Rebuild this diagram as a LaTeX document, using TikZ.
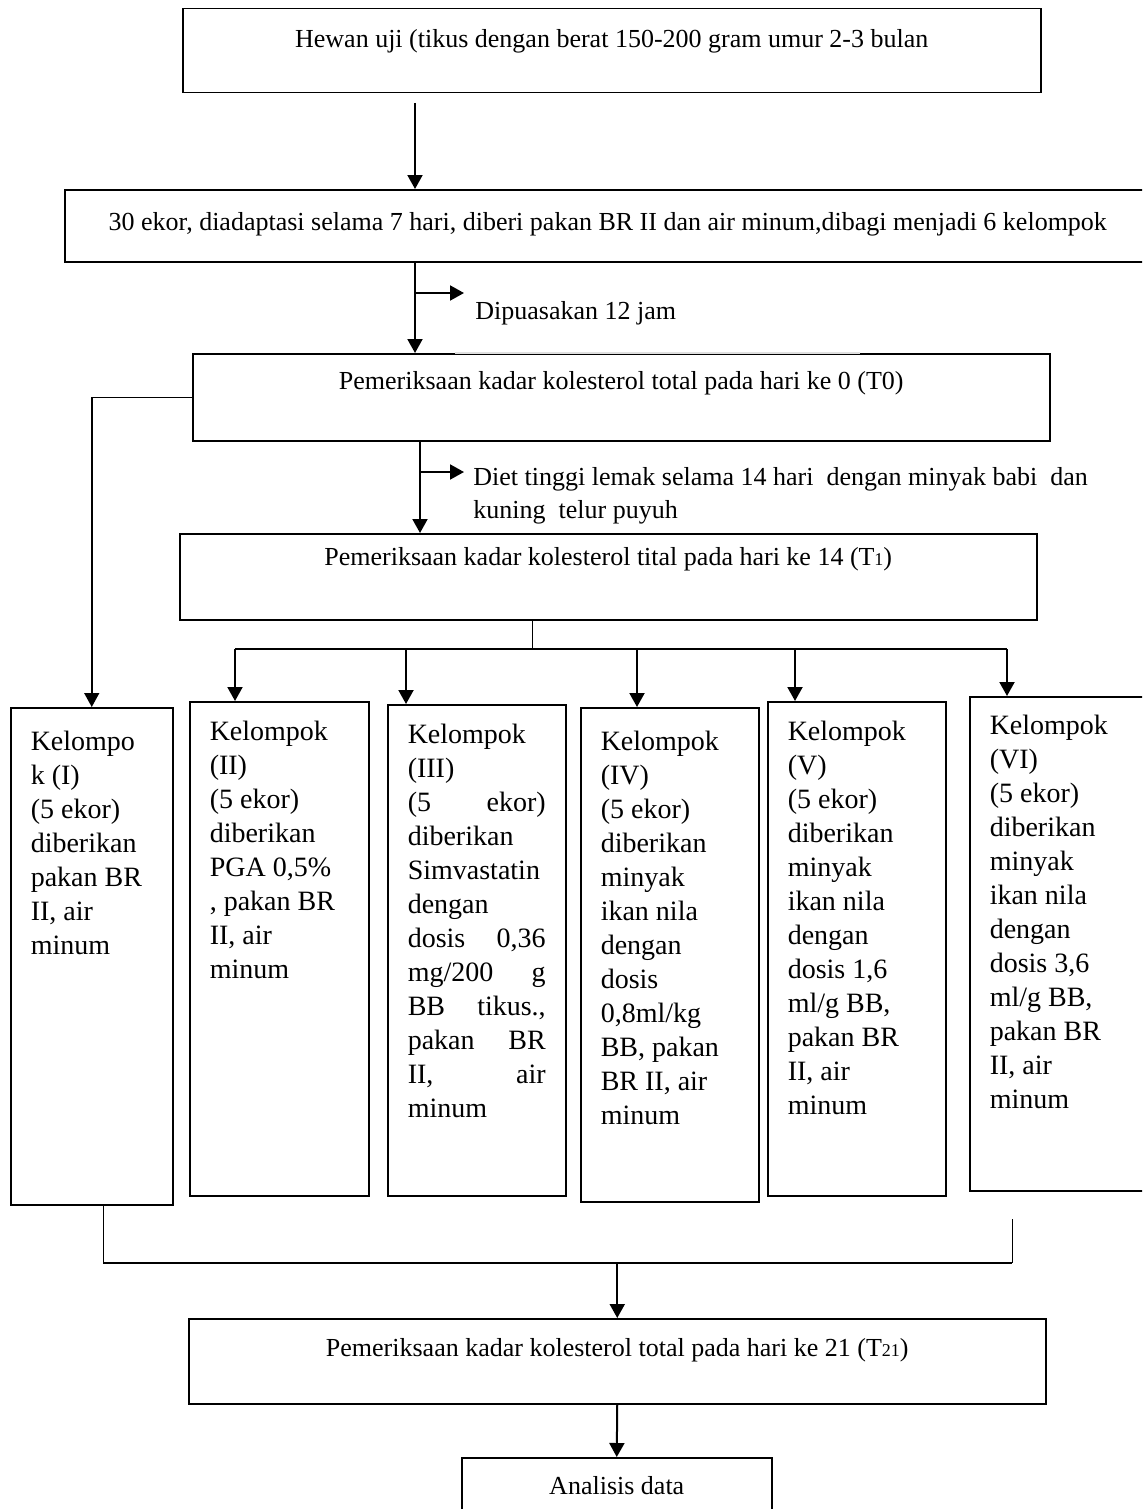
\documentclass[tikz,border=0pt]{standalone}
\usepackage{fontspec}
\setmainfont{Liberation Serif}
\usetikzlibrary{arrows.meta}
\tikzstyle{stage}=[draw=black,line width=0.75pt,anchor=north west,inner sep=0pt,font=\fontsize{13}{16}\selectfont]
\tikzstyle{group}=[draw=black,line width=0.75pt,anchor=north west,inner xsep=10pt,inner ysep=9.5pt,font=\fontsize{14}{17}\selectfont]
\tikzstyle{note}=[inner sep=0pt,font=\fontsize{13}{16.5}\selectfont]
\tikzstyle{arr}=[line width=1pt,-{Triangle[width=7.5pt,length=7pt]}]
\tikzstyle{link}=[line width=1pt]
\tikzstyle{thinlink}=[line width=0.5pt]
\newcommand{\grouptext}[3]{\parbox[t][#1][t]{#2}{\raggedright #3}}

\begin{document}
\begin{tikzpicture}[x=0.5pt,y=-0.5pt]
\useasboundingbox (0,0) rectangle (1142,1509);
\clip (0,0) rectangle (1142,1509);

% stages
\node[stage,minimum width=429pt,text height=19.5pt,text depth=22.5pt] (hewan) at (182,8) {Hewan uji (tikus dengan berat 150-200 gram umur 2-3 bulan};
\node[stage,minimum width=543pt,text height=20.5pt,text depth=15.5pt] (adaptasi) at (64,189) {30 ekor, diadaptasi selama 7 hari, diberi pakan BR II dan air minum,dibagi menjadi 6 kelompok};
\node[stage,minimum width=428.5pt,text height=18pt,text depth=25.5pt] (tnol) at (192,353) {Pemeriksaan kadar kolesterol total pada hari ke 0 (T0)};
\draw[gray!25,line width=0.8pt] (455,353) -- (860,353);
\node[stage,minimum width=428.5pt,text height=16pt,text depth=27pt] (tsatu) at (179,533) {Pemeriksaan kadar kolesterol tital pada hari ke 14 (T{\small 1})};
\node[stage,minimum width=428.5pt,text height=19pt,text depth=23.5pt] (tdua) at (188,1318) {Pemeriksaan kadar kolesterol total pada hari ke 21 (T{\small 21})};
\node[stage,minimum width=155pt,text height=18.5pt,text depth=18pt] (analisis) at (461,1457) {Analisis data};

% groups
\node[group,inner ysep=11.5pt] (g1) at (10,707) {\grouptext{225.5pt}{61pt}{Kelompo\\k (I)\\(5 ekor)\\diberikan\\pakan BR\\II, air\\minum}};
\node[group] (g2) at (189,701) {\grouptext{228pt}{69.5pt}{Kelompok\\(II)\\(5 ekor)\\diberikan\\PGA 0,5\%\\, pakan BR\\II, air\\minum}};
\node[group] (g3) at (387,704) {\grouptext{226.5pt}{69pt}{Kelompok\\(III)\\(5 \hfill ekor)\\diberikan\\Simvastatin\\dengan\\dosis \hfill 0,36\\mg/200 \hfill g\\BB \hfill tikus.,\\pakan \hfill BR\\II, \hfill air\\minum}};
\node[group,inner ysep=11.5pt] (g4) at (580,707) {\grouptext{224pt}{69pt}{Kelompok\\(IV)\\(5 ekor)\\diberikan\\minyak\\ikan nila\\dengan\\dosis\\0,8ml/kg\\BB, pakan\\BR II, air\\minum}};
\node[group] (g5) at (767,701) {\grouptext{228pt}{69pt}{Kelompok\\(V)\\(5 ekor)\\diberikan\\minyak\\ikan nila\\dengan\\dosis 1,6\\ml/g BB,\\pakan BR\\II, air\\minum}};
\node[group,inner ysep=9pt] (g6) at (969,696) {\grouptext{229pt}{70.5pt}{Kelompok\\(VI)\\(5 ekor)\\diberikan\\minyak\\ikan nila\\dengan\\dosis 3,6\\ml/g BB,\\pakan BR\\II, air\\minum}};

% main flow
\coordinate (a1) at (415,103);
\draw[arr] (a1) -- (a1 |- adaptasi.north);
\draw[arr] (a1 |- adaptasi.south) -- (a1 |- tnol.north);
\coordinate (f1) at (415,293);
\coordinate (f1e) at (464,293);
\draw[arr] (f1) -- (f1e);
\node[note,anchor=base west] (puasa) at (475,319) {Dipuasakan 12 jam};

\coordinate (a2) at (420,472);
\draw[arr] (tnol.south -| a2) -- (a2 |- tsatu.north);
\coordinate (f2e) at (464,472);
\draw[arr] (a2) -- (f2e);
\node[note,anchor=north west,align=left] (diet) at (473,467) {Diet tinggi lemak selama 14 hari\ \ dengan minyak babi\ \ dan\\kuning\ \ telur puyuh};

% branch to group I
\draw[arr,line width=0.75pt] (tnol.west) -| (g1.north);

% split to groups II-VI
\coordinate (split) at (532,649);
\draw[thinlink] (tsatu.south -| split) -- (split);
\foreach \x/\g in {235/g2,406/g3,637/g4,795/g5,1007/g6}{
  \coordinate (t\g) at (\x,649);
  \draw[arr] (t\g) -- (t\g |- \g.north);
}
\draw[link] (tg2) -- (tg6);

% join
\coordinate (jl) at (103,1263);
\coordinate (jr) at (1012,1263);
\coordinate (jrt) at (1012,1219);
\draw[thinlink] (g1.south -| jl) -- (jl);
\draw[thinlink] (jrt) -- (jr);
\draw[link] (jl) -- (jr);
\draw[arr] (tdua.north |- jl) -- (tdua.north);
\draw[arr] (tdua.south) -- (analisis.north);

\end{tikzpicture}
\end{document}
